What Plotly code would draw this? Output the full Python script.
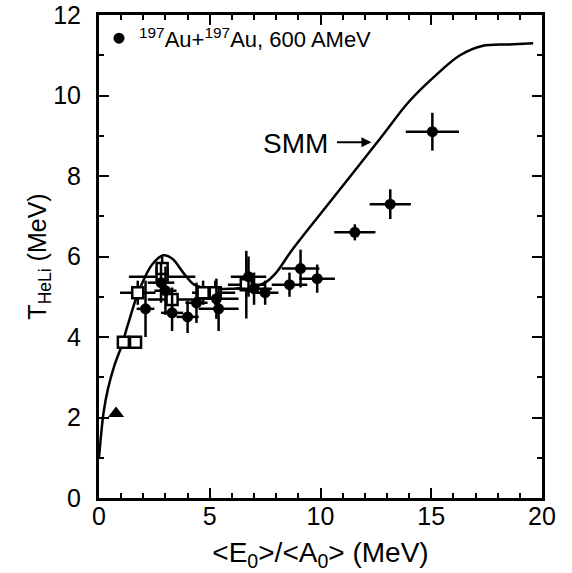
import plotly.graph_objects as go

# SMM curve
smm_x = [0, 0.1, 0.2, 0.4, 0.7, 1.0, 1.3, 1.7, 2.0, 2.4, 2.9, 3.3, 3.8, 4.3, 5.0, 6.0, 7.0, 7.5, 8.0, 8.7,
         10.2, 12.65, 14.0, 15.2, 16.3, 17.3, 18.5, 19.6]
smm_y = [1.0, 1.6, 2.1, 2.7, 3.3, 3.75, 4.3, 5.0, 5.4, 5.8, 6.03, 5.95, 5.6, 5.3, 5.2, 5.2, 5.25, 5.35, 5.6, 6.15,
         7.2, 8.9, 9.85, 10.5, 11.0, 11.23, 11.27, 11.3]

# Au+Au filled circles
au_x = [2.1, 2.8, 3.0, 3.3, 4.0, 4.4, 5.3, 5.4, 6.75, 7.0, 7.5, 8.6, 9.1, 9.85, 11.55, 13.15, 15.05]
au_y = [4.7, 5.35, 5.15, 4.6, 4.5, 4.85, 4.95, 4.7, 5.5, 5.2, 5.1, 5.3, 5.7, 5.45, 6.6, 7.3, 9.1]
au_xerr = [0.4, 0.6, 0.5, 0.5, 0.5, 0.5, 1.0, 0.9, 0.8, 0.8, 0.6, 0.8, 0.85, 0.8, 0.93, 0.93, 1.2]
au_yerr = [0.7, 0.5, 0.6, 0.45, 0.4, 0.5, 0.5, 0.55, 0.5, 0.4, 0.3, 0.3, 0.47, 0.35, 0.2, 0.37, 0.47]

# open squares
sq_x = [1.1, 1.65, 1.75, 2.85, 2.85, 3.3, 4.7, 5.25, 6.65]
sq_y = [3.87, 3.87, 5.1, 5.5, 5.7, 4.93, 5.1, 5.1, 5.3]
sq_xerr = [0.2, 0.2, 0.8, 1.5, 0.3, 1.1, 0.5, 0.9, 0.83]
sq_yerr = [0.15, 0.15, 0.3, 0.3, 0.3, 0.3, 0.3, 0.3, 0.84]

# triangle
tr_x = [0.77]
tr_y = [2.1]

x_ticks = [0, 5, 10, 15, 20]
y_ticks = [0, 2, 4, 6, 8, 10, 12]

FONT = "Liberation Sans, Arial, sans-serif"

fig = go.Figure()
fig.add_trace(go.Scatter(x=smm_x, y=smm_y, mode="lines", line=dict(color="black", width=2.5, shape="spline"),
                         showlegend=False, hoverinfo="skip"))
fig.add_trace(go.Scatter(x=sq_x, y=sq_y, mode="markers",
                         error_x=dict(type="data", array=sq_xerr, color="black", thickness=2.5, width=0),
                         error_y=dict(type="data", array=sq_yerr, color="black", thickness=2.5, width=0),
                         marker=dict(symbol="square", size=11, color="white", line=dict(color="black", width=2.5)),
                         showlegend=False))
fig.add_trace(go.Scatter(x=au_x, y=au_y, mode="markers", name="<sup>197</sup>Au+<sup>197</sup>Au, 600 AMeV",
                         error_x=dict(type="data", array=au_xerr, color="black", thickness=2.5, width=0),
                         error_y=dict(type="data", array=au_yerr, color="black", thickness=2.5, width=0),
                         marker=dict(symbol="circle", size=11, color="black")))
fig.add_trace(go.Scatter(x=tr_x, y=tr_y, mode="markers",
                         marker=dict(symbol="triangle-up", size=14, color="black"), showlegend=False))

fig.add_annotation(x=8.85, y=8.8, text="SMM", showarrow=False, font=dict(size=28, color="black", family=FONT))
fig.add_annotation(x=12.3, y=8.84, text="", showarrow=True, ax=-36, ay=0, axref="pixel", ayref="pixel",
                   arrowhead=2, arrowsize=1, arrowwidth=2, arrowcolor="black")

axis_common = dict(showline=True, linecolor="black", linewidth=3, mirror="ticks", ticks="inside",
                   tickwidth=2, ticklen=10, tickcolor="black", showgrid=False, zeroline=False,
                   automargin=False, ticklabeloverflow="allow",
                   tickfont=dict(size=25, color="black", family=FONT))

fig.update_xaxes(range=[0, 20], tickvals=x_ticks, ticklabelstandoff=-6,
                 minor=dict(dtick=1, ticks="inside", ticklen=5, tickwidth=2, tickcolor="black"),
                 title=dict(text="<E<sub>0</sub>>/<A<sub>0</sub>> (MeV)", font=dict(size=28, color="black", family=FONT),
                            standoff=14),
                 **axis_common)
fig.update_yaxes(range=[0, 12], tickvals=y_ticks, ticklabelstandoff=10,
                 minor=dict(dtick=1, ticks="inside", ticklen=5, tickwidth=2, tickcolor="black"),
                 title=dict(text="T<sub>HeLi</sub> (MeV)", font=dict(size=25, color="black", family=FONT),
                            standoff=0),
                 **axis_common)

fig.update_layout(width=572, height=573, margin=dict(l=99, r=30, t=15, b=75),
                  paper_bgcolor="white", plot_bgcolor="white",
                  font=dict(family=FONT, color="black"),
                  legend=dict(x=0.0, y=0.995, xanchor="left", yanchor="top", bgcolor="rgba(0,0,0,0)",
                              font=dict(size=22, color="black", family=FONT), itemwidth=30,
                              tracegroupgap=0))

fig.write_html("out.html", config={"displayModeBar": False},
               post_script="document.body.style.margin='0';")
